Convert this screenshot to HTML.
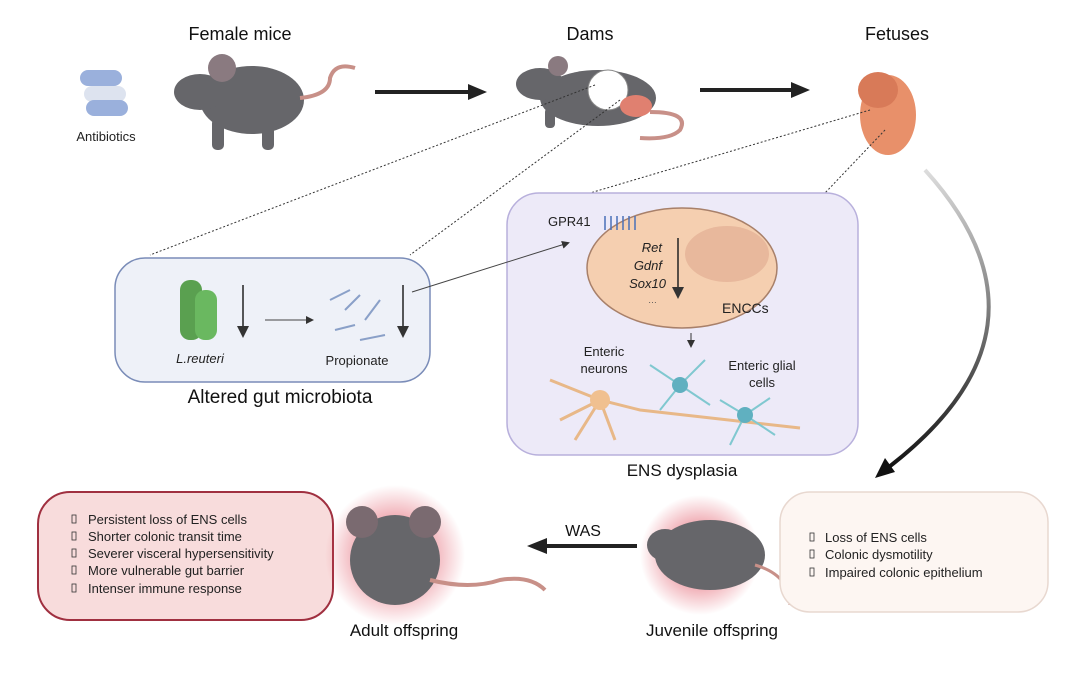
<!DOCTYPE html>
<html><head><meta charset="utf-8"><style>
html,body{margin:0;padding:0;background:#fff}
svg{display:block;font-family:"Liberation Sans",Arial,sans-serif}
</style></head><body>
<svg width="1080" height="675" viewBox="0 0 1080 675">
<defs>
<radialGradient id="glow"><stop offset="0.5" stop-color="#e05060" stop-opacity="0.5"/><stop offset="1" stop-color="#e05060" stop-opacity="0"/></radialGradient>
<linearGradient id="arc" x1="0" y1="0" x2="0" y2="1"><stop offset="0" stop-color="#ddd"/><stop offset="1" stop-color="#111"/></linearGradient>
<marker id="ah" markerWidth="8" markerHeight="8" refX="6" refY="4" orient="auto"><path d="M0,0 L8,4 L0,8z" fill="#333"/></marker>
</defs>
<g font-size="18" fill="#111" text-anchor="middle">
<text x="240" y="40">Female mice</text>
<text x="590" y="40">Dams</text>
<text x="897" y="40">Fetuses</text>
</g>
<g>
<rect x="80" y="70" width="42" height="16" rx="8" fill="#9ab0dc"/>
<rect x="84" y="86" width="42" height="16" rx="8" fill="#dde3ef"/>
<rect x="86" y="100" width="42" height="16" rx="8" fill="#9ab0dc"/>
</g>
<text x="106" y="141" font-size="13" text-anchor="middle" fill="#222">Antibiotics</text>
<!-- female mouse -->
<g fill="#66666a">
<ellipse cx="252" cy="100" rx="52" ry="34"/>
<ellipse cx="200" cy="92" rx="26" ry="18"/>
<ellipse cx="222" cy="68" rx="14" ry="14" fill="#8a7a80"/>
<rect x="212" y="118" width="12" height="32" rx="5"/>
<rect x="262" y="118" width="12" height="32" rx="5"/>
</g>
<path d="M300,98 Q330,95 330,78 Q335,62 355,68" stroke="#c89088" stroke-width="4" fill="none"/>
<line x1="375" y1="92" x2="472" y2="92" stroke="#222" stroke-width="4"/><path d="M468,84 L487,92 L468,100z" fill="#222"/>
<line x1="700" y1="90" x2="795" y2="90" stroke="#222" stroke-width="4"/><path d="M791,82 L810,90 L791,98z" fill="#222"/>
<!-- dam -->
<g fill="#66666a">
<ellipse cx="598" cy="98" rx="58" ry="28"/>
<ellipse cx="540" cy="84" rx="24" ry="16"/>
<ellipse cx="558" cy="66" rx="10" ry="10" fill="#8a7a80"/>
<rect x="545" y="108" width="10" height="20" rx="4"/>
</g>
<circle cx="608" cy="90" r="20" fill="#fff" stroke="#888"/>
<ellipse cx="636" cy="106" rx="16" ry="11" fill="#e08070"/>
<path d="M650,112 Q690,112 680,130 Q670,140 640,138" stroke="#c89088" stroke-width="4" fill="none"/>
<!-- fetus -->
<ellipse cx="888" cy="115" rx="28" ry="40" fill="#e8906a"/>
<ellipse cx="878" cy="90" rx="20" ry="18" fill="#d87a58"/>
<g stroke="#333" stroke-dasharray="2,2" stroke-width="1" fill="none">
<line x1="595" y1="85" x2="150" y2="255"/>
<line x1="620" y1="100" x2="410" y2="255"/>
<line x1="870" y1="110" x2="590" y2="193"/>
<line x1="885" y1="130" x2="825" y2="193"/>
</g>
<path d="M925,170 Q1070,330 885,470" stroke="url(#arc)" stroke-width="4" fill="none"/>
<path d="M875,478 L885,458 L895,472z" fill="#111"/>
<!-- left box -->
<rect x="115" y="258" width="315" height="124" rx="30" fill="#eef1f8" stroke="#7a8cb8" stroke-width="1.5"/>
<rect x="180" y="280" width="22" height="60" rx="10" fill="#5aa050"/>
<rect x="195" y="290" width="22" height="50" rx="10" fill="#6ab860"/>
<line x1="243" y1="285" x2="243" y2="335" stroke="#222" stroke-width="1.5" marker-end="url(#ah)"/>
<line x1="265" y1="320" x2="312" y2="320" stroke="#444" stroke-width="1" marker-end="url(#ah)"/>
<g stroke="#8aa0c8" stroke-width="2"><line x1="330" y1="300" x2="350" y2="290"/><line x1="345" y1="310" x2="360" y2="295"/><line x1="335" y1="330" x2="355" y2="325"/><line x1="365" y1="320" x2="380" y2="300"/><line x1="360" y1="340" x2="385" y2="335"/></g>
<line x1="403" y1="285" x2="403" y2="335" stroke="#222" stroke-width="1.5" marker-end="url(#ah)"/>
<text x="200" y="363" font-size="13" font-style="italic" text-anchor="middle" fill="#222">L.reuteri</text>
<text x="357" y="365" font-size="13" text-anchor="middle" fill="#222">Propionate</text>
<text x="280" y="403" font-size="19" text-anchor="middle" fill="#111">Altered gut microbiota</text>
<!-- ENS box -->
<rect x="507" y="193" width="351" height="262" rx="32" fill="#edeaf8" stroke="#b8b0dc" stroke-width="1.5"/>
<line x1="412" y1="292" x2="568" y2="243" stroke="#444" stroke-width="1" marker-end="url(#ah)"/>
<ellipse cx="682" cy="268" rx="95" ry="60" fill="#f5cfb0" stroke="#a8806a" stroke-width="1.5"/>
<ellipse cx="727" cy="254" rx="42" ry="28" fill="#e8b89c"/>
<g stroke="#4a70b8" stroke-width="1.5" fill="none"><path d="M605,230 v-14 M611,230 v-14 M617,230 v-14 M623,230 v-14 M629,230 v-14 M635,230 v-14"/></g>
<text x="548" y="226" font-size="13" fill="#222">GPR41</text>
<g font-size="13" font-style="italic" fill="#222" text-anchor="end"><text x="662" y="252">Ret</text><text x="662" y="270">Gdnf</text><text x="666" y="288">Sox10</text></g>
<text x="648" y="303" font-size="9" fill="#555">…</text>
<line x1="678" y1="238" x2="678" y2="296" stroke="#222" stroke-width="1.5" marker-end="url(#ah)"/>
<text x="722" y="313" font-size="14" fill="#222">ENCCs</text>
<line x1="691" y1="333" x2="691" y2="346" stroke="#333" stroke-width="1" marker-end="url(#ah)"/>
<text x="604" y="356" font-size="13" text-anchor="middle" fill="#222">Enteric</text>
<text x="604" y="373" font-size="13" text-anchor="middle" fill="#222">neurons</text>
<text x="762" y="370" font-size="13" text-anchor="middle" fill="#222">Enteric glial</text>
<text x="762" y="387" font-size="13" text-anchor="middle" fill="#222">cells</text>
<g stroke="#e8b888" stroke-width="3" fill="none"><path d="M550,380 L600,400 L640,410 L800,428"/><path d="M600,400 L575,440 M600,400 L560,420 M600,400 L615,440"/></g>
<circle cx="600" cy="400" r="10" fill="#f0c090"/>
<g stroke="#80c8d0" stroke-width="2" fill="none"><path d="M680,385 L650,365 M680,385 L705,360 M680,385 L660,410 M680,385 L710,405"/><path d="M745,415 L720,400 M745,415 L770,398 M745,415 L730,445 M745,415 L775,435"/></g>
<circle cx="680" cy="385" r="8" fill="#60b0c0"/><circle cx="745" cy="415" r="8" fill="#60b0c0"/>
<text x="682" y="476" font-size="17" text-anchor="middle" fill="#111">ENS dysplasia</text>
<!-- red box -->
<rect x="38" y="492" width="295" height="128" rx="32" fill="#f8dcdc" stroke="#a03040" stroke-width="2"/>
<g font-size="13" fill="#222">
<text x="88" y="524">Persistent loss of ENS cells</text>
<text x="88" y="541">Shorter colonic transit time</text>
<text x="88" y="558">Severer visceral hypersensitivity</text>
<text x="88" y="575">More vulnerable gut barrier</text>
<text x="88" y="593">Intenser immune response</text>
</g>
<g fill="none" stroke="#333" stroke-width="0.8"><rect x="72" y="515" width="4" height="8"/><rect x="72" y="532" width="4" height="8"/><rect x="72" y="549" width="4" height="8"/><rect x="72" y="566" width="4" height="8"/><rect x="72" y="584" width="4" height="8"/></g>
<!-- adult mouse -->
<circle cx="395" cy="555" r="70" fill="url(#glow)"/>
<ellipse cx="395" cy="560" rx="45" ry="45" fill="#66666a"/>
<ellipse cx="362" cy="522" rx="16" ry="16" fill="#7a6a70"/><ellipse cx="425" cy="522" rx="16" ry="16" fill="#7a6a70"/>
<path d="M430,580 Q470,590 500,580 Q530,575 545,590" stroke="#c89088" stroke-width="4" fill="none"/>
<text x="404" y="636" font-size="17" text-anchor="middle" fill="#111">Adult offspring</text>
<text x="583" y="536" font-size="16" text-anchor="middle" fill="#111">WAS</text>
<line x1="637" y1="546" x2="545" y2="546" stroke="#222" stroke-width="4"/><path d="M547,538 L527,546 L547,554z" fill="#222"/>
<!-- juvenile -->
<circle cx="700" cy="555" r="60" fill="url(#glow)"/>
<ellipse cx="710" cy="555" rx="55" ry="35" fill="#66666a"/>
<ellipse cx="665" cy="545" rx="18" ry="16" fill="#66666a"/>
<path d="M755,565 Q790,575 790,605" stroke="#c89088" stroke-width="3" fill="none"/>
<text x="712" y="636" font-size="17" text-anchor="middle" fill="#111">Juvenile offspring</text>
<!-- right box -->
<rect x="780" y="492" width="268" height="120" rx="30" fill="#fdf6f2" stroke="#e8d8d0" stroke-width="1.5"/>
<g font-size="13" fill="#222">
<text x="825" y="542">Loss of ENS cells</text>
<text x="825" y="559">Colonic dysmotility</text>
<text x="825" y="577">Impaired colonic epithelium</text>
</g>
<g fill="none" stroke="#333" stroke-width="0.8"><rect x="810" y="533" width="4" height="8"/><rect x="810" y="550" width="4" height="8"/><rect x="810" y="568" width="4" height="8"/></g>
</svg>
</body></html>
